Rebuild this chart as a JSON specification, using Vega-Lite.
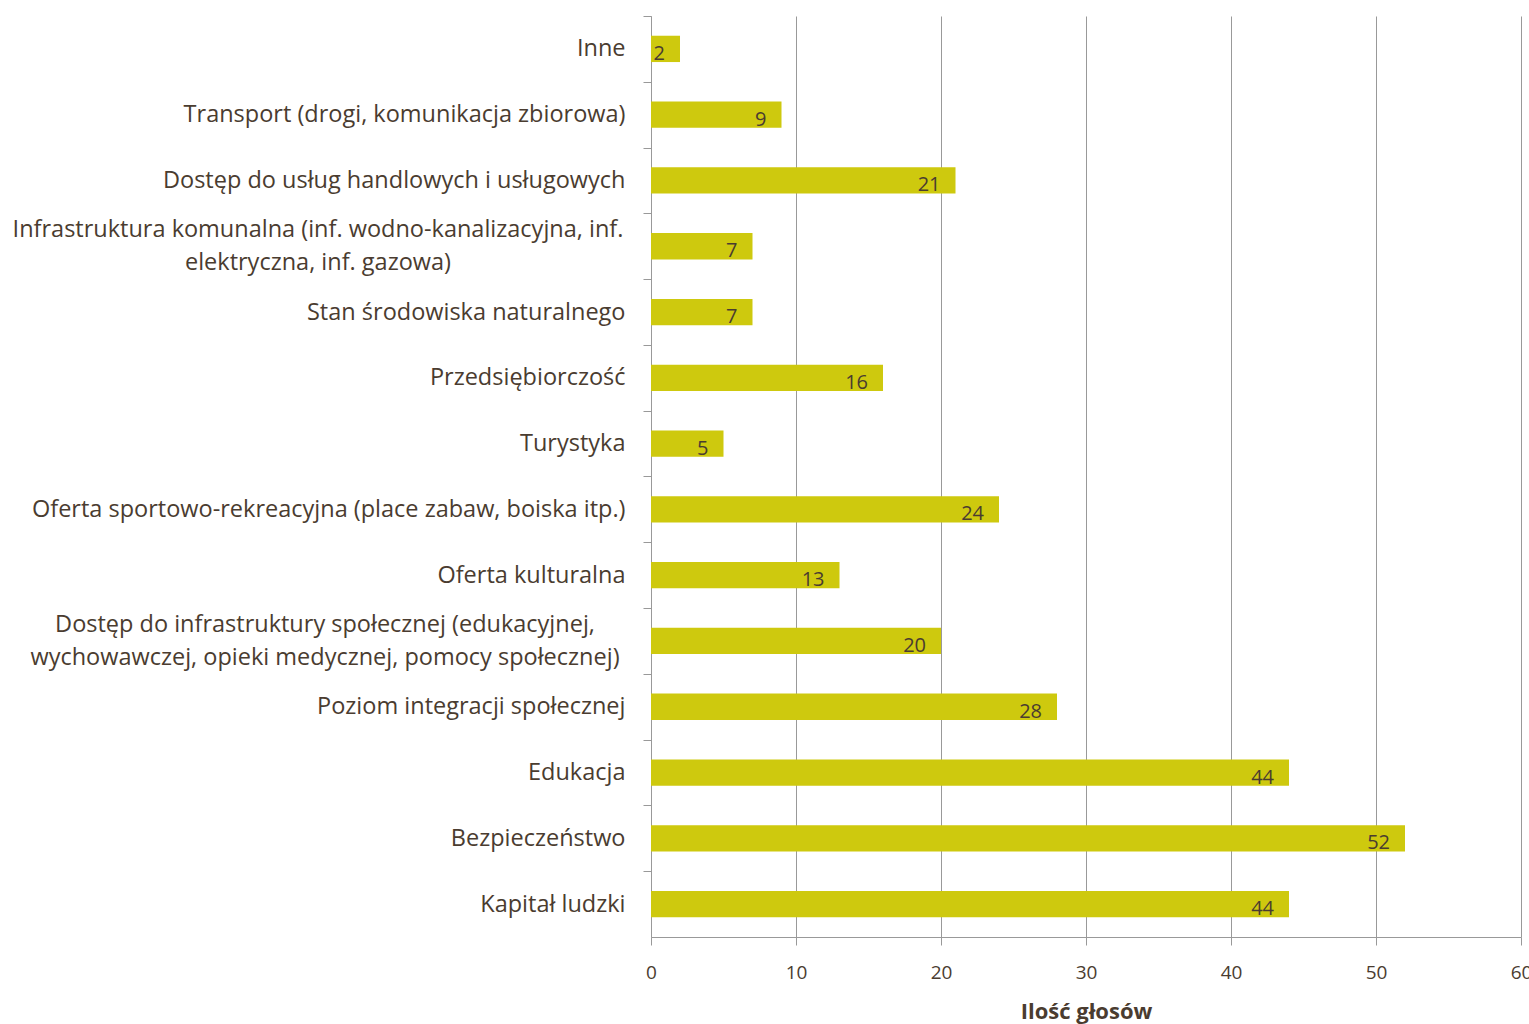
{
  "$schema": "https://vega.github.io/schema/vega-lite/v6.json",
  "width": 870,
  "height": 921,
  "autosize": "none",
  "padding": {"left": 651, "top": 16, "right": 8, "bottom": 87},
  "background": "white",
  "config": {"view": {"stroke": null}, "font": "Open Sans"},
  "data": {
    "values": [
      {"kategoria": "Inne", "glosy": 2},
      {"kategoria": "Transport (drogi, komunikacja zbiorowa)", "glosy": 9},
      {"kategoria": "Dostęp do usług handlowych i usługowych", "glosy": 21},
      {"kategoria": "Infrastruktura komunalna (inf. wodno-kanalizacyjna, inf. elektryczna, inf. gazowa)", "glosy": 7, "linie": ["Infrastruktura komunalna (inf. wodno-kanalizacyjna, inf.", "elektryczna, inf. gazowa)"]},
      {"kategoria": "Stan środowiska naturalnego", "glosy": 7},
      {"kategoria": "Przedsiębiorczość", "glosy": 16},
      {"kategoria": "Turystyka", "glosy": 5},
      {"kategoria": "Oferta sportowo-rekreacyjna (place zabaw, boiska itp.)", "glosy": 24},
      {"kategoria": "Oferta kulturalna", "glosy": 13},
      {"kategoria": "Dostęp do infrastruktury społecznej (edukacyjnej, wychowawczej, opieki medycznej, pomocy społecznej)", "glosy": 20, "linie": ["Dostęp do infrastruktury społecznej (edukacyjnej,", "wychowawczej, opieki medycznej, pomocy społecznej)"]},
      {"kategoria": "Poziom integracji społecznej", "glosy": 28},
      {"kategoria": "Edukacja", "glosy": 44},
      {"kategoria": "Bezpieczeństwo", "glosy": 52},
      {"kategoria": "Kapitał ludzki", "glosy": 44}
    ]
  },
  "encoding": {
    "y": {
      "field": "kategoria",
      "type": "nominal",
      "sort": null,
      "scale": {"paddingInner": 0.6, "paddingOuter": 0.3},
      "axis": {
        "title": null,
        "domainColor": "#999999",
        "tickColor": "#999999",
        "tickSize": 8,
        "tickOffset": -32.9,
        "labelOffset": 32.9,
        "labelFontSize": 23.5,
        "labelColor": "#4a3c30",
        "labelLimit": 0,
        "labelPadding": 18,
        "labelExpr": "indexof(datum.value, 'Infrastruktura komunalna') == 0 || indexof(datum.value, 'Dostęp do infrastruktury') == 0 ? '' : datum.value"
      }
    }
  },
  "layer": [
    {
      "mark": {"type": "bar", "color": "#CEC90E"},
      "encoding": {
        "x": {
          "field": "glosy",
          "type": "quantitative",
          "scale": {"domain": [0, 60]},
          "axis": {
            "values": [0, 10, 20, 30, 40, 50, 60],
            "grid": true,
            "gridColor": "#999999",
            "domainColor": "#999999",
            "tickColor": "#999999",
            "tickSize": 8,
            "labelFlush": false,
            "labelFontSize": 19,
            "labelColor": "#4a3c30",
            "labelPadding": 18,
            "title": "Ilość głosów",
            "titleFontSize": 22,
            "titleFontWeight": "bold",
            "titleColor": "#4a3c30",
            "titlePadding": 19
          }
        }
      }
    },
    {
      "mark": {"type": "text", "align": "right", "baseline": "middle", "dx": -15, "dy": 5, "fontSize": 20, "color": "#4a3c30"},
      "encoding": {
        "x": {"field": "glosy", "type": "quantitative"},
        "text": {"field": "glosy", "type": "quantitative"}
      }
    },
    {
      "transform": [{"filter": "indexof(datum.kategoria, 'Infrastruktura komunalna') == 0"}],
      "mark": {"type": "text", "align": "center", "baseline": "middle", "dx": -333, "dy": -16, "fontSize": 23.5, "lineHeight": 33, "color": "#4a3c30"},
      "encoding": {
        "x": {"datum": 0, "type": "quantitative"},
        "text": {"field": "linie"}
      }
    },
    {
      "transform": [{"filter": "indexof(datum.kategoria, 'Dostęp do infrastruktury') == 0"}],
      "mark": {"type": "text", "align": "center", "baseline": "middle", "dx": -326, "dy": -16, "fontSize": 23.5, "lineHeight": 33, "color": "#4a3c30"},
      "encoding": {
        "x": {"datum": 0, "type": "quantitative"},
        "text": {"field": "linie"}
      }
    }
  ]
}
